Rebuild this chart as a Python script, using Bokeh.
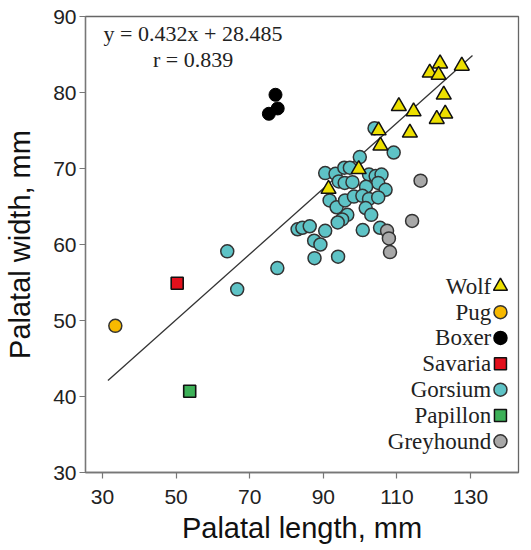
from bokeh.plotting import figure
from bokeh.models import Range1d, FixedTicker
from bokeh.core.properties import value
from bokeh.embed import file_html
from bokeh.resources import INLINE

# ---------------- data ----------------
wolf_x = [121.7, 118.9, 121.3, 127.6, 122.7, 110.5, 114.5, 123.1, 120.8, 113.5, 105.0, 105.5, 99.6, 91.4]
wolf_y = [83.8, 82.6, 82.3, 83.5, 79.7, 78.2, 77.5, 77.2, 76.5, 74.7, 75.0, 73.0, 69.9, 67.3]

pug_x = [33.5]
pug_y = [49.3]

boxer_x = [77.0, 77.6, 75.2]
boxer_y = [79.7, 77.9, 77.2]

savaria_x = [50.3]
savaria_y = [54.9]

papillon_x = [53.7]
papillon_y = [40.7]

grey_x = [116.4, 114.1, 107.3, 107.8, 108.1]
grey_y = [68.4, 63.1, 61.8, 60.8, 59.0]

gors_x = [103.9, 109.1, 99.9, 90.5, 93.3, 95.7, 97.2, 94.2, 95.8, 97.9,
          102.4, 104.2, 105.8, 104.9, 101.6, 106.9, 91.7, 93.6, 95.9, 98.3,
          100.6, 102.4, 104.9, 101.5, 96.5, 95.1, 93.9, 103.0, 100.7, 105.4,
          83.0, 84.3, 86.3, 90.5, 87.5, 89.2, 87.6, 94.0, 63.9, 77.5, 66.6]
gors_y = [75.3, 72.1, 71.5, 69.4, 69.3, 70.1, 70.1, 68.3, 68.1, 68.2,
          69.2, 69.0, 69.2, 68.1, 67.6, 67.2, 65.8, 64.9, 65.8, 66.3,
          66.4, 66.0, 66.2, 64.8, 63.9, 63.3, 62.9, 63.9, 61.9, 62.2,
          62.0, 62.2, 62.4, 61.8, 60.5, 60.0, 58.2, 58.4, 59.1, 56.9, 54.1]

slope = 0.432
intercept = 28.485
r_value = 0.839
fit_x_range = [31.5, 130.5]

x_ticks = [30, 50, 70, 90, 110, 130]
y_ticks = [30, 40, 50, 60, 70, 80, 90]

legend_names = ["Wolf", "Pug", "Boxer", "Savaria", "Gorsium", "Papillon", "Greyhound"]

# ---------------- styles ----------------
C_WOLF = "#ede000"
C_PUG = "#f7b900"
C_BOXER = "#000000"
C_SAV = "#e3101c"
C_GORS = "#5ec3c6"
C_PAP = "#3db158"
C_GREY = "#a8a8a8"
OUT = "#333333"
SERIF = "Liberation Serif"
SANS = "Liberation Sans"

p = figure(width=523, height=546, output_backend="svg", toolbar_location=None,
           x_range=Range1d(25.4, 143.0), y_range=Range1d(30, 90),
           min_border_left=85, min_border_right=5, min_border_top=16, min_border_bottom=70)
p.grid.visible = False
p.background_fill_color = "white"
p.border_fill_color = "white"
p.outline_line_color = "#666666"
p.outline_line_width = 1.3

for ax in (p.xaxis, p.yaxis):
    ax.axis_line_color = "#777777"
    ax.axis_line_width = 1.3
    ax.major_tick_line_color = "#777777"
    ax.major_tick_line_width = 1.2
    ax.major_tick_in = 0
    ax.major_tick_out = 6
    ax.minor_tick_line_color = None
    ax.major_label_text_font = SANS
    ax.major_label_text_font_size = "21px"
    ax.major_label_text_color = "#222222"
    ax.axis_label_text_font = SANS
    ax.axis_label_text_font_size = "29px"
    ax.axis_label_text_font_style = "normal"
    ax.axis_label_text_color = "#111111"

p.xaxis.ticker = FixedTicker(ticks=x_ticks)
p.yaxis.ticker = FixedTicker(ticks=y_ticks)
p.xaxis.axis_label = "Palatal length, mm"
p.yaxis.axis_label = "Palatal width, mm"
p.xaxis.major_label_standoff = 11
p.xaxis.axis_label_standoff = 5
p.yaxis.major_label_standoff = 3
p.yaxis.axis_label_standoff = 14

# regression line
fx = fit_x_range
fy = [slope * v + intercept for v in fx]
p.line(fx, fy, line_color="#333333", line_width=1.3)

# data
p.scatter(gors_x, gors_y, marker="circle", size=13, fill_color=C_GORS, line_color=OUT, line_width=1.5)
p.scatter(grey_x, grey_y, marker="circle", size=13, fill_color=C_GREY, line_color=OUT, line_width=1.5)
p.scatter(wolf_x, wolf_y, marker="triangle", size=15, fill_color=C_WOLF, line_color="#111111", line_width=1.5)
p.scatter(boxer_x, boxer_y, marker="circle", size=13, fill_color=C_BOXER, line_color=C_BOXER, line_width=1)
p.scatter(pug_x, pug_y, marker="circle", size=13, fill_color=C_PUG, line_color=OUT, line_width=1.5)
p.scatter(savaria_x, savaria_y, marker="square", size=12, fill_color=C_SAV, line_color="#111111", line_width=1.6)
p.scatter(papillon_x, papillon_y, marker="square", size=12, fill_color=C_PAP, line_color="#111111", line_width=1.6)

# equation annotation
p.text(x=[54.6], y=[87.75], text=["y = %.3fx + %.3f" % (slope, intercept)],
       text_font=value(SERIF), text_font_size="22px", text_align="center",
       text_baseline="middle", text_color="#222222")
p.text(x=[54.6], y=[84.35], text=["r = %.3f" % r_value],
       text_font=value(SERIF), text_font_size="22px", text_align="center",
       text_baseline="middle", text_color="#222222")

# legend (drawn manually: label left, symbol right)
leg_marker_x = 138.1
leg_text_x = 135.6
leg_y0 = 54.5
leg_dy = 3.40
leg_styles = [
    ("triangle", 14, C_WOLF, "#111111"),
    ("circle", 13, C_PUG, OUT),
    ("circle", 13, C_BOXER, C_BOXER),
    ("square", 12, C_SAV, "#111111"),
    ("circle", 13, C_GORS, OUT),
    ("square", 12, C_PAP, "#111111"),
    ("circle", 13, C_GREY, OUT),
]
for i, (name, (mk, sz, fc, lc)) in enumerate(zip(legend_names, leg_styles)):
    yy = leg_y0 - i * leg_dy
    p.scatter([leg_marker_x], [yy], marker=mk, size=sz, fill_color=fc, line_color=lc, line_width=1.5)
    p.text(x=[leg_text_x], y=[yy], text=[name], text_font=value(SERIF), text_font_size="23px",
           text_align="right", text_baseline="middle", text_color="#222222")

open("out.html", "w").write(file_html(p, INLINE))
